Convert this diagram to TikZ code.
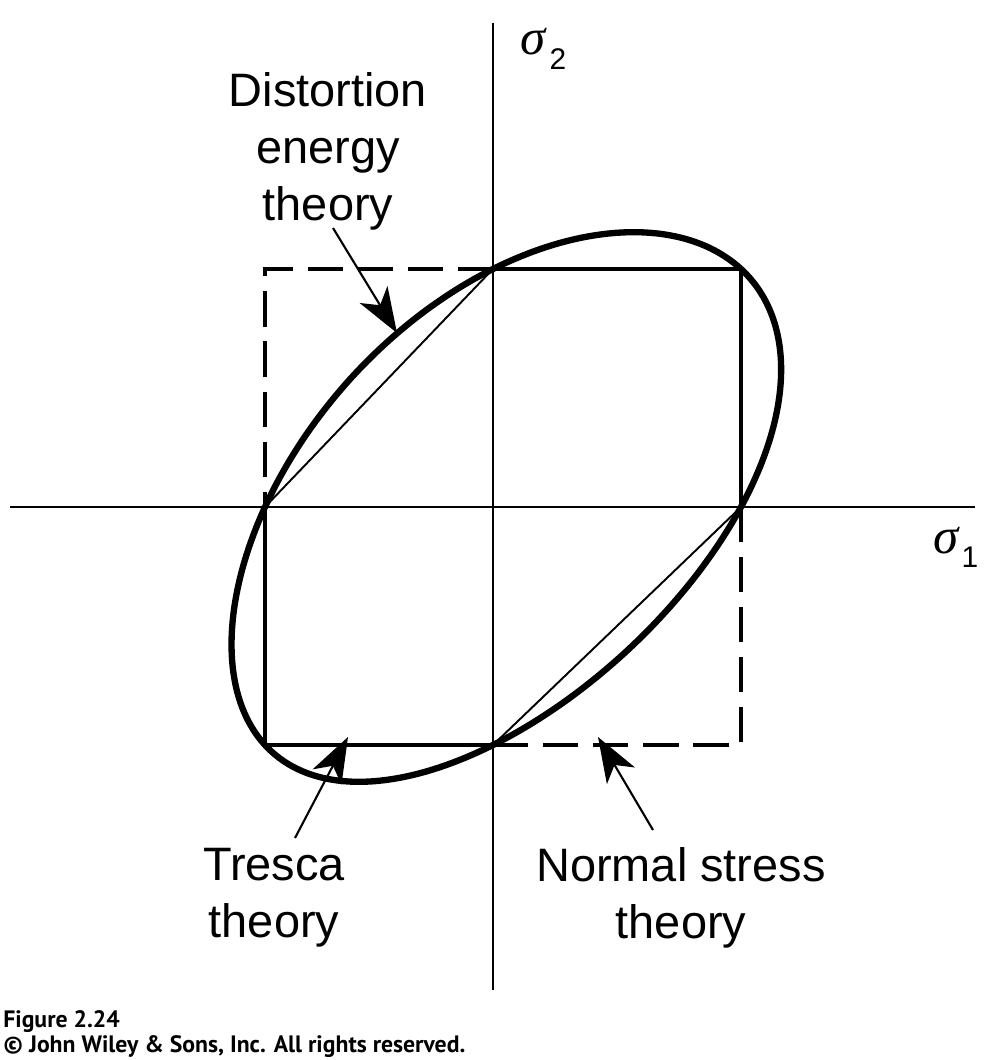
\documentclass[tikz,border=0pt]{standalone}
\usepackage{fontspec}
\setmainfont{Liberation Sans}
\newfontfamily\greekfont{Liberation Serif}
\newfontfamily\capfont{PT Sans}
\usetikzlibrary{arrows.meta}

\begin{document}
\begin{tikzpicture}[>={Stealth[length=9mm,width=6.5mm,inset=2.5mm]},
  axis/.style={line width=1.6pt},
  edge/.style={line width=1.8pt},
  normal/.style={edge,dash pattern=on 20pt off 8.5pt},
  shear/.style={line width=1.1pt},
  yield/.style={line width=3.6pt,line join=round},
  pointer/.style={->,line width=1.2pt},
  lbl/.style={align=center,font=\fontsize{26.7}{32.4}\selectfont},
  sym/.style={font=\greekfont\itshape\fontsize{29}{29}\selectfont,inner sep=0pt},
  sub/.style={font=\fontsize{17}{17}\selectfont,inner sep=0pt}]
\useasboundingbox (-9.86,-11.06) rectangle (9.94,10.14);
% axes
\draw[axis] (-9.66,0) -- (9.64,0);
\draw[axis] (0,9.68) -- (0,-9.66);
\node[sym] (s2) at (0.8,9.3) {σ};
\node[sub] (s2i) at (1.3,8.96) {2};
\node[sym] (s1) at (9.06,-0.68) {σ};
\node[sub] (s1i) at (9.54,-1.0) {1};
% normal stress square, dashed parts
\draw[normal] (0,4.76) -- (-4.56,4.76) -- (-4.56,0);
\draw[normal] (4.96,0) -- (4.96,-4.76) -- (0,-4.76);
% tresca hexagon
\draw[edge] (0,4.76) -- (4.96,4.76) -- (4.96,0);
\draw[edge] (0,-4.76) -- (-4.56,-4.76) -- (-4.56,0);
\draw[shear] (-4.56,0) -- (0,4.76);
\draw[shear] (4.96,0) -- (0,-4.76);
% distortion energy ellipse
\draw[yield] plot[domain=0:360,samples=181,smooth,variable=\t]
  ({4.76*(cos(\t)-sin(\t)/sqrt(3))+0.2*(cos(\t)-sin(\t)/sqrt(3))^2},
   {4.76*(cos(\t)+sin(\t)/sqrt(3))}) -- cycle;
% labels
\node[lbl] (de) at (-3.3,7.12) {Distortion\\energy\\theory};
\node[lbl] (tr) at (-4.38,-7.82) {Tresca\\theory};
\node[lbl] (ns) at (3.76,-7.82) {Normal stress\\theory};
\coordinate (detail) at (-3.2,5.58);
\coordinate (detip) at (-1.92,3.48);
\coordinate (trtail) at (-3.96,-6.62);
\coordinate (trtip) at (-2.9,-4.6);
\coordinate (nstail) at (3.2,-6.46);
\coordinate (nstip) at (2.1,-4.6);
\draw[pointer] (detail) -- (detip);
\draw[pointer] (trtail) -- (trtip);
\draw[pointer] (nstail) -- (nstip);
\node[anchor=south west,align=left,inner sep=0pt,font=\capfont\bfseries\fontsize{13.5}{14.2}\selectfont] (credit) at (-9.8,-11.01) {Figure 2.24\\© John Wiley \& Sons, Inc. All rights reserved.};
\end{tikzpicture}
\end{document}
